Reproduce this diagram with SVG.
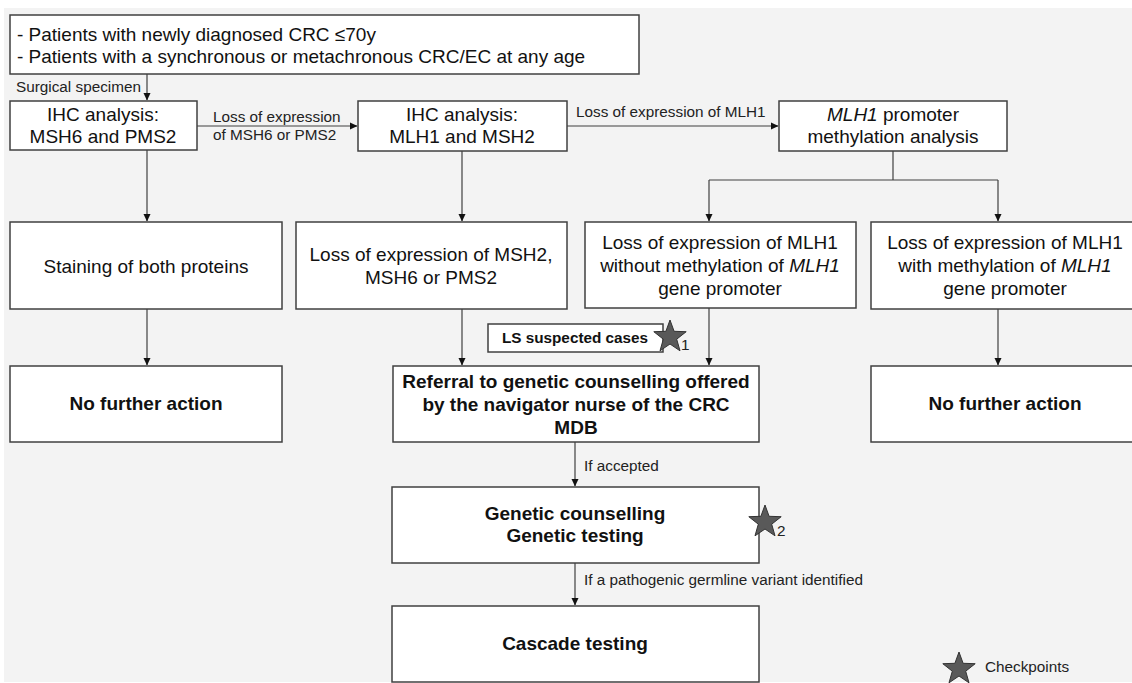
<svg xmlns="http://www.w3.org/2000/svg" width="1132" height="683" viewBox="0 0 1132 683">
<style>
.box{fill:#fff;stroke:#404040;stroke-width:1.5}
.t{font-family:"Liberation Sans",Arial,sans-serif;font-size:19px;fill:#111;text-anchor:middle}
.b{font-weight:bold}
.l{font-family:"Liberation Sans",Arial,sans-serif;font-size:15.3px;fill:#222}
.c{fill:none;stroke:#404040;stroke-width:1.2}
.star{fill:#595959;stroke:#333;stroke-width:1}
</style>
<defs>
<marker id="ah" markerWidth="8" markerHeight="8" refX="7" refY="4" orient="auto" markerUnits="userSpaceOnUse">
<path d="M0,0.5 L7.5,4 L0,7.5 Z" fill="#111"/>
</marker>
<path id="st" d="M0,-17 L4.1,-5.7 L16.2,-5.3 L6.7,2.2 L10,13.8 L0,7 L-10,13.8 L-6.7,2.2 L-16.2,-5.3 L-4.1,-5.7 Z"/>
</defs>
<rect x="4" y="8" width="1128" height="674" fill="#f3f3f3"/>

<g id="connectors">
<path class="c" d="M147,74 V100" marker-end="url(#ah)"/>
<path class="c" d="M197,126 H357" marker-end="url(#ah)"/>
<path class="c" d="M567,126 H778" marker-end="url(#ah)"/>
<path class="c" d="M147,150 V221" marker-end="url(#ah)"/>
<path class="c" d="M462,151 V221" marker-end="url(#ah)"/>
<path class="c" d="M893,151 V180"/>
<path class="c" d="M709,180 H998"/>
<path class="c" d="M709,180 V221" marker-end="url(#ah)"/>
<path class="c" d="M998,180 V221" marker-end="url(#ah)"/>
<path class="c" d="M147,309 V365" marker-end="url(#ah)"/>
<path class="c" d="M462,309 V365" marker-end="url(#ah)"/>
<path class="c" d="M709,308 V365" marker-end="url(#ah)"/>
<path class="c" d="M998,309 V365" marker-end="url(#ah)"/>
<path class="c" d="M575,442 V486" marker-end="url(#ah)"/>
<path class="c" d="M575,563 V605" marker-end="url(#ah)"/>
<text class="l" x="16" y="92">Surgical specimen</text>
<text class="l" x="213" y="122">Loss of expression</text>
<text class="l" x="213" y="140">of MSH6 or PMS2</text>
<text class="l" x="576" y="117">Loss of expression of MLH1</text>
<text class="l" x="584" y="471">If accepted</text>
<text class="l" x="584" y="585">If a pathogenic germline variant identified</text>
</g>

<g id="n-patients">
<rect class="box" x="10" y="15" width="629" height="59"/>
<text class="t" x="17" y="41" style="text-anchor:start">- Patients with newly diagnosed CRC ≤70y</text>
<text class="t" x="17" y="63" style="text-anchor:start">- Patients with a synchronous or metachronous CRC/EC at any age</text>
</g>

<g id="n-ihc1">
<rect class="box" x="10" y="101" width="187" height="49"/>
<text class="t" x="103" y="121">IHC analysis:</text>
<text class="t" x="103" y="143">MSH6 and PMS2</text>
</g>

<g id="n-ihc2">
<rect class="box" x="358" y="101" width="209" height="50"/>
<text class="t" x="462" y="121">IHC analysis:</text>
<text class="t" x="462" y="143">MLH1 and MSH2</text>
</g>

<g id="n-methyl">
<rect class="box" x="779" y="101" width="228" height="50"/>
<text class="t" x="893" y="121"><tspan font-style="italic">MLH1</tspan> promoter</text>
<text class="t" x="893" y="143">methylation analysis</text>
</g>

<g id="n-staining">
<rect class="box" x="10" y="222" width="272" height="87"/>
<text class="t" x="146" y="273">Staining of both proteins</text>
</g>

<g id="n-msh2">
<rect class="box" x="296" y="222" width="271" height="87"/>
<text class="t" x="431" y="261">Loss of expression of MSH2,</text>
<text class="t" x="431" y="284">MSH6 or PMS2</text>
</g>

<g id="n-without">
<rect class="box" x="585" y="222" width="271" height="86"/>
<text class="t" x="720" y="249">Loss of expression of MLH1</text>
<text class="t" x="720" y="272">without methylation of <tspan font-style="italic">MLH1</tspan></text>
<text class="t" x="720" y="295">gene promoter</text>
</g>

<g id="n-with">
<rect class="box" x="871" y="222" width="270" height="87"/>
<text class="t" x="1005" y="249">Loss of expression of MLH1</text>
<text class="t" x="1005" y="272">with methylation of <tspan font-style="italic">MLH1</tspan></text>
<text class="t" x="1005" y="295">gene promoter</text>
</g>

<g id="n-nfa1">
<rect class="box" x="10" y="366" width="272" height="76"/>
<text class="t b" x="146" y="410">No further action</text>
</g>

<g id="n-ls">
<rect class="box" x="488" y="324" width="175" height="28"/>
<text class="l b" x="575" y="343" style="text-anchor:middle;fill:#111">LS suspected cases</text>
<use href="#st" class="star" x="670" y="337"/>
<text class="l" x="681" y="350">1</text>
</g>

<g id="n-referral">
<rect class="box" x="393" y="366" width="366" height="76"/>
<text class="t b" x="576" y="388">Referral to genetic counselling offered</text>
<text class="t b" x="576" y="411">by the navigator nurse of the CRC</text>
<text class="t b" x="576" y="434">MDB</text>
</g>

<g id="n-nfa2">
<rect class="box" x="871" y="366" width="270" height="76"/>
<text class="t b" x="1005" y="410">No further action</text>
</g>

<g id="n-genetic">
<rect class="box" x="392" y="487" width="367" height="76"/>
<text class="t b" x="575" y="520">Genetic counselling</text>
<text class="t b" x="575" y="542">Genetic testing</text>
<use href="#st" class="star" x="765" y="522"/>
<text class="l" x="777" y="536">2</text>
</g>

<g id="n-cascade">
<rect class="box" x="392" y="606" width="367" height="76"/>
<text class="t b" x="575" y="650">Cascade testing</text>
</g>

<g id="legend">
<use href="#st" class="star" x="959" y="669"/>
<text class="l" x="985" y="672">Checkpoints</text>
</g>
</svg>
